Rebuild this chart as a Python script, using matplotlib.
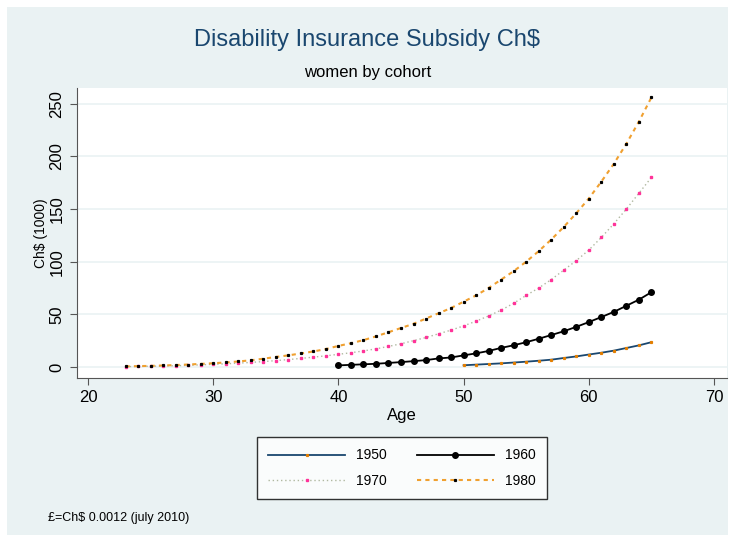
import matplotlib
matplotlib.use("Agg")
import matplotlib.pyplot as plt
from matplotlib.patches import Rectangle

plt.rcParams["font.family"] = ["Liberation Sans", "DejaVu Sans"]

ages_1950 = list(range(50, 66))
sub_1950 = [1.6, 2.2, 2.8, 3.4, 4.2, 5.0, 5.9, 6.9, 8.5, 10.0, 11.8, 13.5, 15.5, 18.0, 20.5, 23.5]

ages_1960 = list(range(40, 66))
sub_1960 = [1.5, 2.0, 2.5, 3.0, 3.8, 4.6, 5.5, 6.5, 8.1, 9.0, 11.0, 12.9, 15.2, 18.1, 20.6,
            23.5, 26.8, 30.3, 33.9, 38.1, 42.6, 47.4, 52.3, 58.1, 63.9, 71.0]

ages_1970 = list(range(23, 66))
sub_1970 = [0.3, 0.5, 0.7, 0.9, 1.2, 1.5, 2.0, 2.5, 3.0, 3.6, 4.3, 5.1, 6.0, 7.0, 8.1, 9.3,
            10.6, 12, 13.5, 15.2, 17.2, 19.5, 22, 25, 28, 31.5, 35, 39, 43.5, 48.5, 54, 60.5,
            68, 75, 83, 92, 101, 111, 123, 136, 150, 165, 180]

ages_1980 = list(range(23, 66))
sub_1980 = [0.5, 0.8, 1.0, 1.4, 1.8, 2.3, 2.9, 3.5, 4.3, 5.2, 6.3, 7.8, 9.5, 11, 12.8, 14.7,
            17, 20, 22.5, 25.5, 29, 33, 37, 41, 46, 51, 56, 62, 68, 75, 83, 91, 100, 110,
            121, 133, 146, 160, 176, 193, 212, 233, 256]

bg = "#eaf2f3"
fig = plt.figure(figsize=(7.35, 5.42), dpi=100, facecolor="white")
fig.patches.append(Rectangle((7 / 735, 7 / 542), 721 / 735, 528 / 542,
                             transform=fig.transFigure, facecolor=bg, edgecolor="none", zorder=-10))
ax = fig.add_axes([77 / 735, 1 - 378 / 542, 650 / 735, 290 / 542])
ax.set_facecolor("white")

l50, = ax.plot(ages_1950, sub_1950, color="#1a476f", lw=1.3, marker="s", ms=1.3,
               mfc="#e37e00", mec="#e37e00", label="1950")
l60, = ax.plot(ages_1960, sub_1960, color="black", lw=1.3, marker="o", ms=4, label="1960")
l70, = ax.plot(ages_1970, sub_1970, color="#b0b8a0", lw=1, ls=(0, (1, 2)), marker="s", ms=1.5,
               mfc="#ff3399", mec="#ff3399", label="1970")
l80, = ax.plot(ages_1980, sub_1980, color="#f0a030", lw=1.5, ls=(0, (2, 2)), marker="s", ms=1.3,
               mfc="black", mec="black", label="1980")

ax.set_xlim(19.12, 71.04)
ax.set_ylim(-10.5, 265)
ax.set_xticks([20, 30, 40, 50, 60, 70])
ax.set_yticks([0, 50, 100, 150, 200, 250])
ax.tick_params(axis="y", labelrotation=90, pad=4)
for lab in ax.get_yticklabels():
    lab.set_va("center")
ax.tick_params(labelsize=12, color="#555555", length=5)
ax.grid(axis="y", color=bg, lw=1.2)
ax.set_axisbelow(True)
for s in ["top", "right"]:
    ax.spines[s].set_visible(False)
for s in ["left", "bottom"]:
    ax.spines[s].set_color("#555555")
ax.set_xlabel("Age", fontsize=12, labelpad=2)
ax.set_ylabel("Ch$ (1000)", fontsize=10, labelpad=1)

fig.text(0.5, 1 - 40 / 542, "Disability Insurance Subsidy Ch$", ha="center", va="center",
         fontsize=17, color="#1a476f")
fig.text(0.5, 1 - 72 / 542, "women by cohort", ha="center", va="center", fontsize=12)
fig.text(48 / 735, 1 - 518 / 542, "£=Ch$ 0.0012 (july 2010)", ha="left", va="center", fontsize=9)

leg = fig.legend([l50, l70, l60, l80], ["1950", "1970", "1960", "1980"], ncol=2, loc="center",
                 bbox_to_anchor=(402 / 735, 1 - 468 / 542),
                 fontsize=10, frameon=True, fancybox=False, edgecolor="black",
                 handlelength=5.5, columnspacing=2.2, borderpad=0.8, labelspacing=0.8)
leg.get_frame().set_linewidth(1)

fig.savefig("out.png", dpi=100, facecolor="white")
